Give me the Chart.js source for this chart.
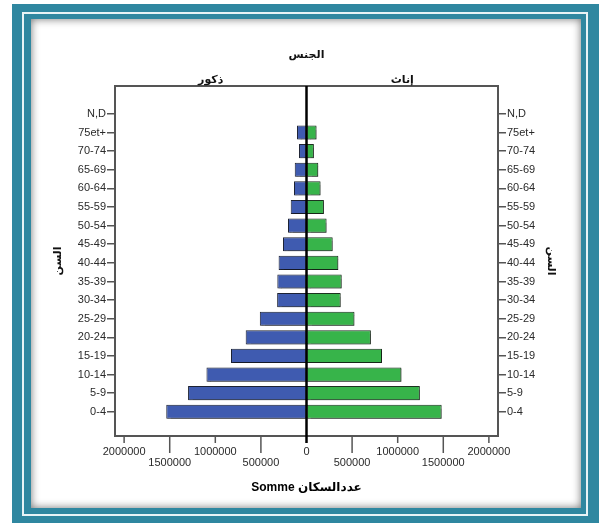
<!DOCTYPE html>
<html>
<head>
<meta charset="utf-8">
<script src="https://cdn.jsdelivr.net/npm/chart.js@4/dist/chart.umd.min.js"></script>
<style>
  body { margin: 0; width: 599px; height: 523px; overflow: hidden; background: #fff; position: relative; }
  .outer { position: absolute; left: 12px; top: 4px; width: 587px; height: 519px; background: #2f87a0; }
  .line { position: absolute; left: 22px; top: 12px; width: 562px; height: 500px; border: 2px solid #e8f3f6; background: #2f87a0; }
  .panel { position: absolute; left: 31px; top: 19px; width: 550px; height: 489px; background: #fff; box-shadow: inset 0 0 9px rgba(0,0,0,0.55); }
  .wrap { position: absolute; left: 0; top: 0; width: 599px; height: 523px; }
</style>
</head>
<body>
<div class="outer"></div>
<div class="line"></div>
<div class="panel"></div>
<div class="wrap"><canvas id="pyramid" dir="ltr"></canvas></div>
<script>
// data
const ageGroups = ['N,D', '75et+', '70-74', '65-69', '60-64', '55-59', '50-54', '45-49', '40-44',
  '35-39', '30-34', '25-29', '20-24', '15-19', '10-14', '5-9', '0-4'];
const males = [0, 104000, 82000, 129000, 137000, 173000, 203000, 258000, 306000,
  320000, 322000, 512000, 667000, 828000, 1097000, 1299000, 1538000];
const females = [0, 110000, 81000, 129000, 154000, 191000, 220000, 287000, 349000,
  386000, 375000, 526000, 706000, 828000, 1041000, 1243000, 1482000];
const sexLabels = ['ذكور', 'إناث'];
const xTicks = [-2000000, -1500000, -1000000, -500000, 0, 500000, 1000000, 1500000, 2000000];

const fontFam = "'Liberation Sans', 'DejaVu Sans', Arial, sans-serif";
const textCol = '#2a2a2a';
const axisCol = '#555';

// blank slot on top gives the extra room above N,D
const yLabels = [''].concat(ageGroups);
const maleData = [null].concat(males.map(function (v) { return -v; }));
const femaleData = [null].concat(females);

// tick marks below the x axis and the thick zero line
const pyramidLines = {
  id: 'pyramidLines',
  afterDatasetsDraw: function (chart) {
    const ctx = chart.ctx;
    const xs = chart.scales.x;
    const area = chart.chartArea;
    ctx.save();
    xTicks.forEach(function (v) {
      if (v === 0) return;
      const px = xs.getPixelForValue(v);
      const len = (Math.abs(v) / 500000) % 2 === 0 ? 7 : 17;
      ctx.strokeStyle = axisCol;
      ctx.lineWidth = 1.5;
      ctx.beginPath();
      ctx.moveTo(px, area.bottom);
      ctx.lineTo(px, area.bottom + len);
      ctx.stroke();
    });
    const zx = xs.getPixelForValue(0);
    ctx.strokeStyle = '#000';
    ctx.lineWidth = 2.5;
    ctx.beginPath();
    ctx.moveTo(zx, area.top);
    ctx.lineTo(zx, area.bottom + 7);
    ctx.stroke();
    ctx.restore();
  }
};

// small drop shadow under the bars
const barShadow = {
  id: 'barShadow',
  beforeDatasetsDraw: function (chart) {
    const ctx = chart.ctx;
    ctx.save();
    ctx.shadowColor = 'rgba(0,0,0,0.3)';
    ctx.shadowOffsetX = 1.5;
    ctx.shadowOffsetY = 1;
    ctx.shadowBlur = 1;
  },
  afterDatasetsDraw: function (chart) {
    chart.ctx.restore();
  }
};

function hideFirst(c) {
  return c.index === 0 ? 'rgba(0,0,0,0)' : axisCol;
}

// a bit less room under 0-4 than above N,D
function stretchRange(s) {
  s._valueRange = yLabels.length + 0.8;
}

const pyramid = new Chart(document.getElementById('pyramid'), {
  type: 'bar',
  data: {
    labels: yLabels,
    datasets: [{
      label: sexLabels[0],
      data: maleData,
      backgroundColor: '#3f5bb0',
      borderColor: '#1d2233',
      borderWidth: 1,
      borderSkipped: false,
      barPercentage: 0.76,
      categoryPercentage: 1
    }, {
      label: sexLabels[1],
      data: femaleData,
      backgroundColor: '#37b44a',
      borderColor: '#1d3320',
      borderWidth: 1,
      borderSkipped: false,
      barPercentage: 0.76,
      categoryPercentage: 1
    }]
  },
  options: {
    indexAxis: 'y',
    responsive: true,
    maintainAspectRatio: false,
    animation: false,
    layout: { padding: { left: 47, right: 37, top: 44, bottom: 24 } },
    plugins: {
      legend: { display: false },
      tooltip: { enabled: false }
    },
    scales: {
      x: {
        type: 'linear',
        position: 'bottom',
        stacked: true,
        min: -2100000,
        max: 2100000,
        afterFit: function (s) { s.height = 63; },
        afterBuildTicks: function (s) {
          s.ticks = xTicks.map(function (v) { return { value: v }; });
        },
        grid: { display: false, drawTicks: false },
        border: { display: true, color: axisCol, width: 2 },
        ticks: {
          autoSkip: false,
          maxRotation: 0,
          includeBounds: false,
          padding: 11,
          color: textCol,
          font: { family: fontFam, size: 11, lineHeight: 0.95 },
          callback: function (v) {
            const a = Math.abs(v);
            return (a / 500000) % 2 === 0 ? String(a) : ['', String(a)];
          }
        },
        title: {
          display: true,
          text: 'Somme عددالسكان',
          color: '#000',
          font: { family: fontFam, size: 12, weight: 'bold' }
        }
      },
      x2: {
        type: 'category',
        position: 'top',
        labels: sexLabels,
        offset: true,
        afterFit: function (s) { s.height = 42; },
        grid: { display: false, drawTicks: false },
        border: { display: true, color: axisCol, width: 2 },
        ticks: {
          padding: -1,
          color: '#111',
          font: { family: fontFam, size: 11, weight: 'bold' }
        },
        title: {
          display: true,
          text: 'الجنس',
          color: '#111',
          font: { family: fontFam, size: 11, weight: 'bold' }
        }
      },
      y: {
        type: 'category',
        position: 'left',
        stacked: true,
        offset: true,
        afterFit: function (s) { s.width = 68; },
        afterBuildTicks: stretchRange,
        grid: { display: true, offset: false, drawOnChartArea: false, tickLength: 8, lineWidth: 1.5, tickColor: hideFirst },
        border: { display: true, color: axisCol, width: 2 },
        ticks: {
          autoSkip: false,
          padding: 1,
          color: textCol,
          font: { family: fontFam, size: 11 }
        },
        title: {
          display: true,
          text: 'السن',
          color: '#111',
          font: { family: fontFam, size: 11, weight: 'bold' }
        }
      },
      y2: {
        type: 'category',
        position: 'right',
        labels: yLabels,
        offset: true,
        afterFit: function (s) { s.width = 64; },
        afterBuildTicks: stretchRange,
        grid: { display: true, offset: false, drawOnChartArea: false, tickLength: 8, lineWidth: 1.5, tickColor: hideFirst },
        border: { display: true, color: axisCol, width: 2 },
        ticks: {
          autoSkip: false,
          padding: 1,
          color: textCol,
          font: { family: fontFam, size: 11 }
        },
        title: {
          display: true,
          text: 'السن',
          color: '#111',
          font: { family: fontFam, size: 11, weight: 'bold' }
        }
      }
    }
  },
  plugins: [barShadow, pyramidLines]
});
</script>
</body>
</html>
